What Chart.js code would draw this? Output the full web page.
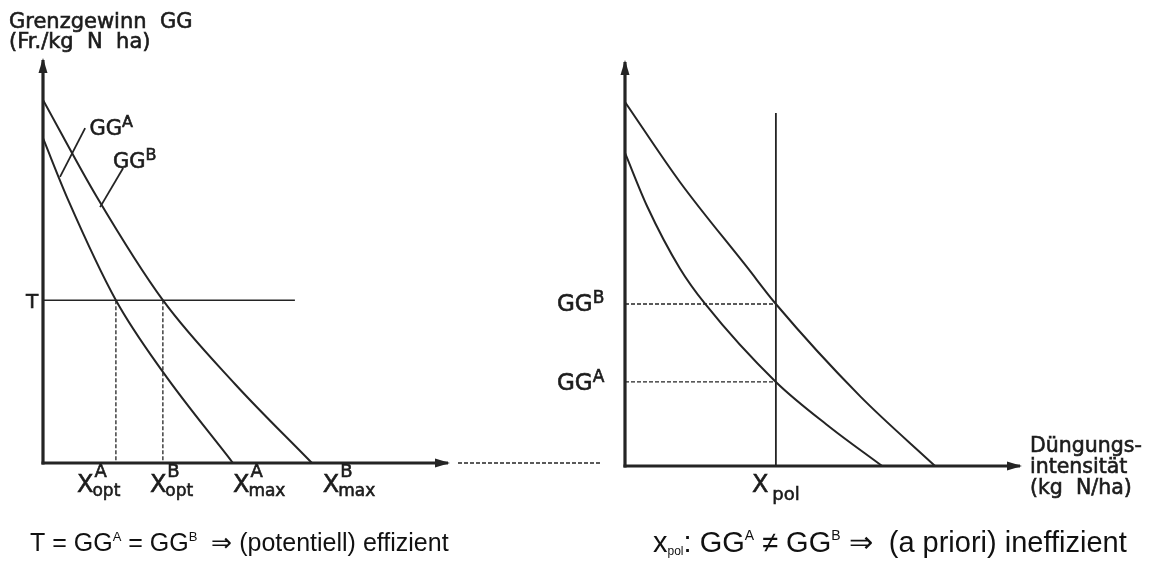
<!DOCTYPE html>
<html><head><meta charset="utf-8">
<script src="https://cdn.jsdelivr.net/npm/chart.js@4"></script>
<style>
html,body{margin:0;padding:0;background:#fff;}
#wrap{position:relative;width:1152px;height:567px;overflow:hidden;background:#fff;}
canvas{position:absolute;left:0;top:0;}
</style></head><body>
<div id="wrap"><canvas id="cl" width="1152" height="567"></canvas><canvas id="cr" width="1152" height="567"></canvas></div>
<script>
// ---------- data (arbitrary units) ----------
// left panel: marginal profit curves of farm A (inner) and farm B (outer)
const leftA_x = [0, 6.2, 18.0, 29.6, 46.9];
const leftA_y = [80.6, 65.3, 40.4, 22.6, 0];
const leftB_x = [0, 13.3, 29.6, 47.4, 66.4];
const leftB_y = [90.1, 66.0, 40.4, 19.6, 0];
const levelT = 40.4;
const xOptA = 18.0, xOptB = 29.6;
const leftTLineEnd = 62.2;
const leaderA_x = [4.2, 10.4], leaderA_y = [71.0, 83.1];
const leaderB_x = [14.1, 19.8], leaderB_y = [63.5, 73.2];
const leftXLabelTexts = [['X','A','opt'],['X','B','opt'],['X','A','max'],['X','B','max']];
const leftXLabelPos = [8.4, 26.4, 46.9, 69.1];

// right panel
const rightA_x = [0, 5.6, 13.9, 20.3, 38.2, 51.9, 65.1];
const rightA_y = [77.5, 64.3, 48.9, 40.1, 20.8, 9.6, 0];
const rightB_x = [0, 13.9, 30.9, 38.2, 59.5, 78.5];
const rightB_y = [90.1, 70.3, 49.2, 40.1, 17.3, 0];
const xPol = 38.2, xPolTop = 87.4;
const ggBatPol = 40.1, ggAatPol = 20.8;

const INK = '#242424';
const TXT = '#1c1c1c';
const GEO = '"DejaVu Sans", sans-serif';
const ARIAL = '"Liberation Sans", Arial, sans-serif';

function pts(xs, ys){ return xs.map((x,i)=>({x:x, y:ys[i]})); }

function rich(ctx, x, y, parts, family, thick){
  let cx = x;
  for (const p of parts){
    ctx.font = p.s + 'px ' + (family||GEO);
    ctx.fillText(p.t, cx + (p.dx||0), y + (p.dy||0));
    if (thick){ ctx.lineWidth = thick; ctx.strokeText(p.t, cx + (p.dx||0), y + (p.dy||0)); }
    if (!p.stay) cx += ctx.measureText(p.t).width + (p.gap||0);
  }
  return cx;
}
function txt(ctx, t, x, y, size, family){
  ctx.font = size + 'px ' + (family||GEO);
  ctx.fillText(t, x, y);
  ctx.lineWidth = 0.6; ctx.strokeText(t, x, y);
}

function arrowLine(ctx, x1, y1, x2, y2){
  ctx.beginPath(); ctx.moveTo(x1,y1); ctx.lineTo(x2,y2); ctx.stroke();
  const a = Math.atan2(y2-y1, x2-x1), L = 13, W = 4.5;
  ctx.beginPath();
  ctx.moveTo(x2 + Math.cos(a)*2, y2 + Math.sin(a)*2);
  ctx.lineTo(x2 - L*Math.cos(a) - W*Math.sin(a), y2 - L*Math.sin(a) + W*Math.cos(a));
  ctx.lineTo(x2 - L*Math.cos(a) + W*Math.sin(a), y2 - L*Math.sin(a) - W*Math.cos(a));
  ctx.closePath(); ctx.fill();
}

function curve(data, extra){
  return Object.assign({data:data, borderColor:INK, borderWidth:2, pointRadius:0,
    cubicInterpolationMode:'monotone', fill:false}, extra||{});
}
function seg(data, extra){
  return Object.assign({data:data, borderColor:INK, borderWidth:1.6, pointRadius:0, tension:0, fill:false}, extra||{});
}

function makeScales(){
  return {
    x:{type:'linear', min:0, max:100, display:false},
    y:{type:'linear', min:0, max:100, display:false}
  };
}

// ---------- left chart ----------
const leftPlugin = {
  id:'leftDeco',
  afterDatasetsDraw(chart){
    const ctx = chart.ctx, xs = chart.scales.x, ys = chart.scales.y;
    const x0 = xs.getPixelForValue(0), y0 = ys.getPixelForValue(0);
    ctx.save();
    ctx.strokeStyle = INK; ctx.fillStyle = INK; ctx.lineWidth = 3.2; ctx.lineCap='butt';
    arrowLine(ctx, x0, y0+1.5, x0, ys.top);
    arrowLine(ctx, x0-1.5, y0, xs.right, y0);
    // connector dashed line to right panel
    ctx.lineWidth = 1.4; ctx.setLineDash([4,2]);
    ctx.beginPath(); ctx.moveTo(xs.right+10, y0); ctx.lineTo(xs.right+152, y0); ctx.stroke();
    ctx.setLineDash([]);
    // texts
    ctx.fillStyle = TXT; ctx.strokeStyle = TXT;
    txt(ctx, 'Grenzgewinn  GG', x0-34, 28, 21);
    txt(ctx, '(Fr./kg  N  ha)', x0-34, 48, 21);
    txt(ctx, 'T', x0-17, ys.getPixelForValue(levelT)+8, 20);
    // curve labels
    rich(ctx, xs.getPixelForValue(11.5), ys.getPixelForValue(83.4)+8, [{t:'GG',s:21},{t:'A',s:16,dy:-8}], GEO, 0.6);
    rich(ctx, xs.getPixelForValue(17.3), ys.getPixelForValue(75.2)+8, [{t:'GG',s:21},{t:'B',s:16,dy:-8}], GEO, 0.6);
    // x labels
    const by = y0 + 29;
    leftXLabelTexts.forEach((lab,i)=>{
      const lx = xs.getPixelForValue(leftXLabelPos[i]);
      txt(ctx, lab[0], lx, by, 24);
      ctx.font = '24px ' + GEO;
      const w = ctx.measureText(lab[0]).width;
      txt(ctx, lab[1], lx + w + 1, by - 15, 18);
      txt(ctx, lab[2], lx + w - 1, by + 4, 17);
    });
    // bottom formula
    ctx.fillStyle = '#111';
    rich(ctx, 30, 551, [
      {t:'T = GG',s:25},{t:'A',s:13,dy:-10},{t:' = GG',s:25},{t:'B',s:13,dy:-10},
      {t:'  \u21D2 (potentiell) effizient',s:25}], ARIAL);
    ctx.restore();
  }
};

new Chart(document.getElementById('cl'), {
  type:'line',
  data:{datasets:[
    curve(pts(leftA_x, leftA_y)),
    curve(pts(leftB_x, leftB_y)),
    seg(pts([0, leftTLineEnd],[levelT, levelT]), {borderWidth:1.5}),
    seg(pts([xOptA, xOptA],[levelT, 0]), {borderWidth:1.3, borderDash:[4,2]}),
    seg(pts([xOptB, xOptB],[levelT, 0]), {borderWidth:1.3, borderDash:[4,2]}),
    seg(pts(leaderA_x, leaderA_y), {borderWidth:1.8}),
    seg(pts(leaderB_x, leaderB_y), {borderWidth:1.8})
  ]},
  options:{
    responsive:false, animation:false, devicePixelRatio:1,
    layout:{padding:{left:43, right:1152-448, top:60, bottom:567-463}},
    plugins:{legend:{display:false}, tooltip:{enabled:false}},
    scales: makeScales()
  },
  plugins:[leftPlugin]
});

// ---------- right chart ----------
const rightPlugin = {
  id:'rightDeco',
  afterDatasetsDraw(chart){
    const ctx = chart.ctx, xs = chart.scales.x, ys = chart.scales.y;
    const x0 = xs.getPixelForValue(0), y0 = ys.getPixelForValue(0);
    ctx.save();
    ctx.strokeStyle = INK; ctx.fillStyle = INK; ctx.lineWidth = 3.2;
    arrowLine(ctx, x0, y0+1.5, x0, ys.top);
    arrowLine(ctx, x0-1.5, y0, xs.right, y0);
    ctx.fillStyle = TXT; ctx.strokeStyle = TXT;
    // y labels
    rich(ctx, x0-68, ys.getPixelForValue(ggBatPol)+7, [{t:'GG',s:23},{t:'B',s:17,dy:-8}], GEO, 0.6);
    rich(ctx, x0-68, ys.getPixelForValue(ggAatPol)+8, [{t:'GG',s:23},{t:'A',s:17,dy:-8}], GEO, 0.6);
    // x label
    const px = xs.getPixelForValue(xPol);
    rich(ctx, px-24, y0+26, [{t:'X',s:24,gap:4},{t:'pol',s:18,dy:8}], GEO, 0.6);
    // axis title
    txt(ctx, 'D\u00FCngungs-', xs.right+10, 452, 20.5);
    txt(ctx, 'intensit\u00E4t', xs.right+10, 473, 20.5);
    txt(ctx, '(kg  N/ha)', xs.right+10, 494, 20.5);
    // bottom formula
    ctx.fillStyle = '#111';
    rich(ctx, 653, 552, [
      {t:'x',s:29},{t:'pol',s:12,dy:3},{t:': GG',s:29},{t:'A',s:14,dy:-12},{t:' \u2260 GG',s:29},{t:'B',s:14,dy:-12},
      {t:' \u21D2  (a priori) ineffizient',s:29}], ARIAL);
    ctx.restore();
  }
};

new Chart(document.getElementById('cr'), {
  type:'line',
  data:{datasets:[
    curve(pts(rightA_x, rightA_y)),
    curve(pts(rightB_x, rightB_y)),
    seg(pts([xPol, xPol],[0, xPolTop]), {borderWidth:1.8}),
    seg(pts([0, xPol],[ggBatPol, ggBatPol]), {borderWidth:1.3, borderDash:[4,2]}),
    seg(pts([0, xPol],[ggAatPol, ggAatPol]), {borderWidth:1.3, borderDash:[4,2]})
  ]},
  options:{
    responsive:false, animation:false, devicePixelRatio:1,
    layout:{padding:{left:625, right:1152-1020, top:62, bottom:567-466}},
    plugins:{legend:{display:false}, tooltip:{enabled:false}},
    scales: makeScales()
  },
  plugins:[rightPlugin]
});
</script>
</body></html>
